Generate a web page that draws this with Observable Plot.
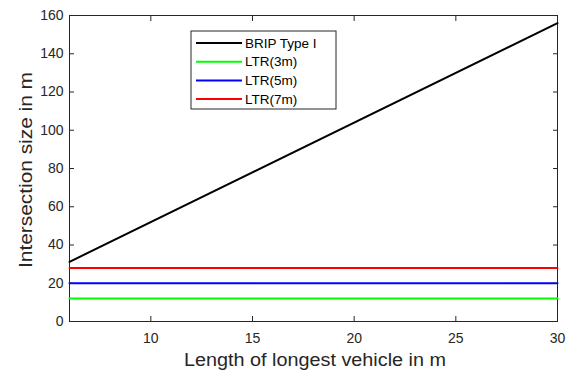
<!DOCTYPE html>
<html>
<head>
<meta charset="utf-8">
<script src="https://cdn.jsdelivr.net/npm/d3@7"></script>
<script src="https://cdn.jsdelivr.net/npm/@observablehq/plot@0.6"></script>
<style>
  html, body { margin: 0; padding: 0; background: #fff; }
  #chart { position: relative; width: 570px; height: 372px; }
</style>
</head>
<body>
<div id="chart"></div>
<script>
// Data
const vehicleLength = [6, 30];
const bripType1 = [31.2, 156];
const ltr3 = [12, 12];
const ltr5 = [20, 20];
const ltr7 = [28, 28];
const seriesNames = ["BRIP Type I", "LTR(3m)", "LTR(5m)", "LTR(7m)"];
const seriesColors = ["#000000", "#00ff00", "#0000ff", "#ff0000"];
const xTicks = [10, 15, 20, 25, 30];
const yTicks = [0, 20, 40, 60, 80, 100, 120, 140, 160];

const seriesValues = [bripType1, ltr3, ltr5, ltr7];
const rows = [];
seriesNames.forEach((name, i) => {
  vehicleLength.forEach((x, j) => rows.push({series: name, x, y: seriesValues[i][j]}));
});

const axisColor = "#262626";
const font = "Liberation Sans, Arial, sans-serif";

const plot = Plot.plot({
  width: 570,
  height: 372,
  marginLeft: 69,
  marginRight: 13,
  marginTop: 15,
  marginBottom: 51,
  style: {fontFamily: font, background: "#fff", color: axisColor},
  x: {domain: [6, 30]},
  y: {domain: [0, 160]},
  color: {domain: seriesNames, range: seriesColors},
  marks: [
    Plot.frame({stroke: axisColor, strokeWidth: 1}),
    Plot.line(rows, {x: "x", y: "y", z: "series", stroke: "series", strokeWidth: 2}),
    Plot.axisX({ticks: xTicks, anchor: "bottom", tickSize: -5, tickPadding: 17, fontSize: 14, stroke: axisColor, fill: axisColor, label: null}),
    Plot.axisX({ticks: xTicks, anchor: "top", tickSize: -5, tickFormat: () => "", stroke: axisColor, label: null}),
    Plot.axisY({ticks: yTicks, anchor: "left", tickSize: -5, tickPadding: 11, fontSize: 14, stroke: axisColor, fill: axisColor, label: null}),
    Plot.axisY({ticks: yTicks, anchor: "right", tickSize: -5, tickFormat: () => "", stroke: axisColor, label: null})
  ]
});

document.getElementById("chart").appendChild(plot);

const svg = d3.select(plot);
// Axis titles
svg.append("text")
  .attr("x", 315).attr("y", 366)
  .attr("text-anchor", "middle")
  .attr("font-family", font).attr("font-size", 17.5)
  .attr("textLength", 262).attr("lengthAdjust", "spacingAndGlyphs")
  .attr("fill", axisColor)
  .text("Length of longest vehicle in m");
svg.append("text")
  .attr("transform", "translate(32,170) rotate(-90)")
  .attr("text-anchor", "middle")
  .attr("font-family", font).attr("font-size", 17.5)
  .attr("textLength", 196).attr("lengthAdjust", "spacingAndGlyphs")
  .attr("fill", axisColor)
  .text("Intersection size in m");

// Legend
const lg = svg.append("g").attr("transform", "translate(191,31)");
lg.append("rect").attr("width", 145).attr("height", 78)
  .attr("fill", "#fff").attr("stroke", axisColor).attr("stroke-width", 1);
seriesNames.forEach((name, i) => {
  const y = 12 + i * 18.7;
  lg.append("line").attr("x1", 5).attr("x2", 51).attr("y1", y).attr("y2", y)
    .attr("stroke", seriesColors[i]).attr("stroke-width", 2);
  lg.append("text").attr("x", 54).attr("y", y).attr("dy", "0.35em")
    .attr("text-anchor", "start")
    .attr("font-family", font).attr("font-size", 13.5).attr("fill", "#000")
    .text(name);
});
</script>
</body>
</html>
